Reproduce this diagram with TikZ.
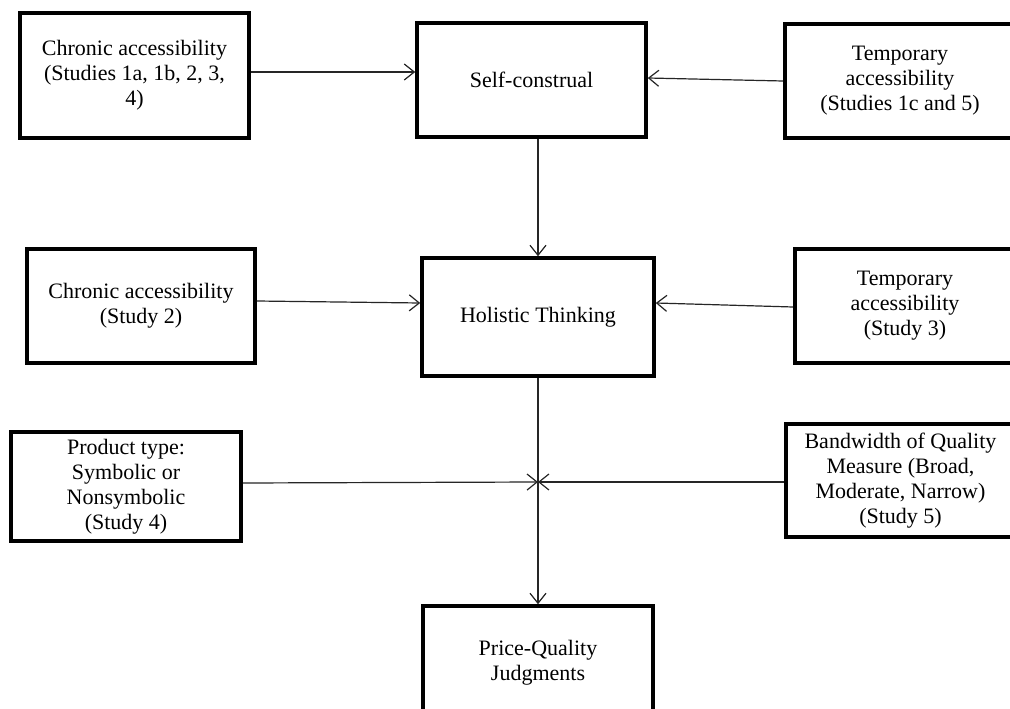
\documentclass[tikz,border=0pt]{standalone}
\usepackage{fontspec}
\setmainfont{Liberation Serif}
\usetikzlibrary{arrows.meta}
\begin{document}
\begin{tikzpicture}[x=1pt,y=-1pt,
  box/.style={draw=black,line width=3.6pt,fill=white,align=center,inner sep=0pt,
    font=\fontsize{22}{25}\selectfont},
  arr/.style={draw=black!85,line width=1.2pt,-{Straight Barb[length=10pt,width=16pt,line width=1.2pt]}},
  ln/.style={draw=black!85,line width=1.2pt}]
\clip (0,0) rectangle (1010,709);
\fill[white] (0,0) rectangle (1010,709);
\node[box,minimum width=229pt,minimum height=125pt] (b1) at (134.5,75.5) {Chronic accessibility\\(Studies 1a, 1b, 2, 3,\\4)};
\node[box,minimum width=229pt,minimum height=114pt] (sc) at (531.5,80) {Self-construal};
\node[box,minimum width=230pt,minimum height=114pt] (b3) at (900,81) {Temporary\\accessibility\\(Studies 1c and 5)};
\node[box,minimum width=228pt,minimum height=114pt] (b4) at (141,306) {Chronic accessibility\\(Study 2)};
\node[box,minimum width=232pt,minimum height=118pt] (ht) at (538,317) {Holistic Thinking};
\node[box,minimum width=220pt,minimum height=114pt] (b6) at (905,306) {Temporary\\accessibility\\(Study 3)};
\node[box,minimum width=230pt,minimum height=109pt] (b7) at (126,486.5) {Product type:\\Symbolic or\\Nonsymbolic\\(Study 4)};
\node[box,minimum width=229pt,minimum height=113pt] (b8) at (900.5,480.5) {Bandwidth of Quality\\Measure (Broad,\\Moderate, Narrow)\\(Study 5)};
\node[box,minimum width=230pt,minimum height=114pt] (pq) at (538,663) {Price-Quality\\Judgments};
\coordinate (y72) at (0,72);
\coordinate (y78) at (0,78);
\coordinate (y81) at (0,81);
\coordinate (y301) at (0,301);
\coordinate (y303) at (0,303);
\coordinate (y307) at (0,307);
\coordinate (y483) at (0,483);
\coordinate (x) at (538,482);
\draw[arr] (b1.east |- y72) -- (sc.west |- y72);
\draw[arr] (b3.west |- y81) -- (sc.east |- y78);
\draw[arr] (ht.north |- sc.south) -- (ht.north);
\draw[arr] (b4.east |- y301) -- (ht.west |- y303);
\draw[arr] (b6.west |- y307) -- (ht.east |- y303);
\draw[arr] (ht.south) -- (pq.north);
\draw[arr] (b7.east |- y483) -- (x);
\draw[arr] (b8.west |- x) -- (x);
\end{tikzpicture}
\end{document}
